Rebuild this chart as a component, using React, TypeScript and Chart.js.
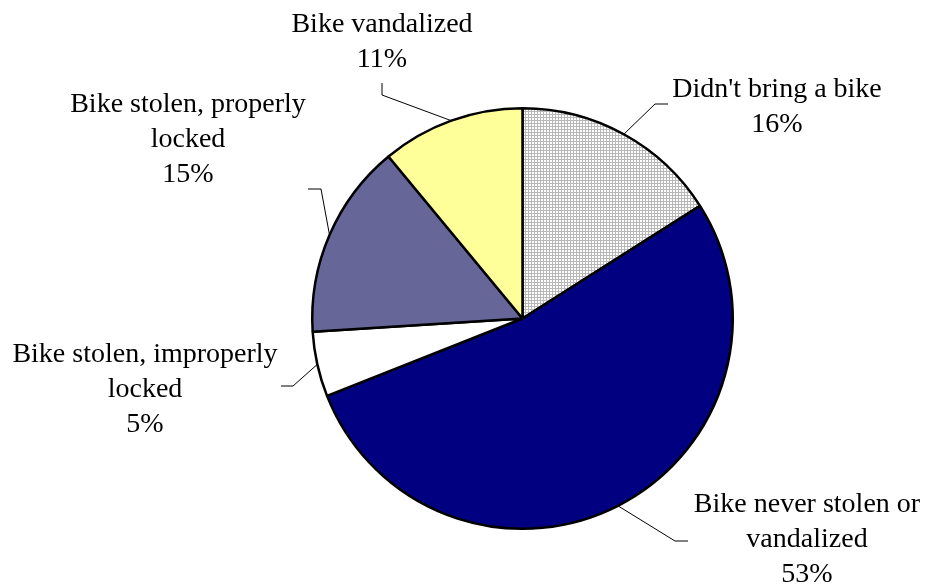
import React, { useEffect, useRef } from "react";
import { Chart, registerables } from "chart.js";

Chart.register(...registerables);

const categories = [
  "Didn't bring a bike",
  "Bike never stolen or vandalized",
  "Bike stolen, improperly locked",
  "Bike stolen, properly locked",
  "Bike vandalized",
];
const values = [16, 53, 5, 15, 11];
const labelLines = [
  ["Didn't bring a bike"],
  ["Bike never stolen or", "vandalized"],
  ["Bike stolen, improperly", "locked"],
  ["Bike stolen, properly", "locked"],
  ["Bike vandalized"],
];

// layout of labels: text centre x, first baseline y, leader elbow and end
const labelLayout = [
  { x: 777, y: 97, elbow: [655, 104], end: [668, 104] },
  { x: 807, y: 512, elbow: [675, 541], end: [688, 541] },
  { x: 145, y: 362, elbow: [293, 386], end: [281, 386] },
  { x: 188, y: 112, elbow: [321, 189], end: [308, 189] },
  { x: 382, y: 32, elbow: [382, 95], end: [382, 83] },
];

function makePattern(): CanvasPattern | string {
  const c = document.createElement("canvas");
  c.width = 3;
  c.height = 3;
  const ctx = c.getContext("2d");
  if (!ctx) return "#d4d4d4";
  ctx.fillStyle = "#ffffff";
  ctx.fillRect(0, 0, 3, 3);
  ctx.fillStyle = "#b8b8b8";
  ctx.fillRect(0, 0, 3, 1);
  ctx.fillRect(0, 0, 1, 3);
  const p = ctx.createPattern(c, "repeat");
  return p || "#d4d4d4";
}

const labelPlugin = {
  id: "pieLabels",
  afterDraw(chart: any) {
    const ctx = chart.ctx;
    const meta = chart.getDatasetMeta(0);
    ctx.save();
    meta.data.forEach((arc: any, i: number) => {
      const p = arc.getProps(["x", "y", "startAngle", "endAngle", "outerRadius"], true);
      const mid = (p.startAngle + p.endAngle) / 2;
      const sx = p.x + Math.cos(mid) * p.outerRadius;
      const sy = p.y + Math.sin(mid) * p.outerRadius;
      const L = labelLayout[i];
      ctx.strokeStyle = "#000";
      ctx.lineWidth = 1;
      ctx.beginPath();
      ctx.moveTo(sx, sy);
      ctx.lineTo(L.elbow[0], L.elbow[1]);
      ctx.lineTo(L.end[0], L.end[1]);
      ctx.stroke();
      const lines = [...labelLines[i], `${values[i]}%`];
      ctx.fillStyle = "#000";
      ctx.font = '28px "Liberation Serif", "Times New Roman", serif';
      ctx.textAlign = "center";
      ctx.textBaseline = "alphabetic";
      lines.forEach((t, j) => ctx.fillText(t, L.x, L.y + j * 35));
    });
    ctx.restore();
  },
};

export default function App() {
  const ref = useRef<HTMLCanvasElement | null>(null);
  useEffect(() => {
    if (!ref.current) return;
    const pattern = makePattern();
    const chart = new Chart(ref.current, {
      type: "pie",
      data: {
        labels: categories,
        datasets: [
          {
            data: values,
            backgroundColor: [pattern as any, "#000080", "#ffffff", "#666699", "#ffff99"],
            borderColor: "#000000",
            borderWidth: 2.5,
          },
        ],
      },
      options: {
        responsive: false,
        animation: false,
        devicePixelRatio: 1,
        layout: { padding: { left: 311, right: 191, top: 107, bottom: 55 } },
        plugins: {
          legend: { display: false },
          tooltip: { enabled: false },
        },
      },
      plugins: [labelPlugin],
    });
    return () => chart.destroy();
  }, []);
  return (
    <div style={{ position: "absolute", left: 0, top: 0, width: 925, height: 585, background: "#fff" }}>
      <canvas ref={ref} width={925} height={585} />
    </div>
  );
}
